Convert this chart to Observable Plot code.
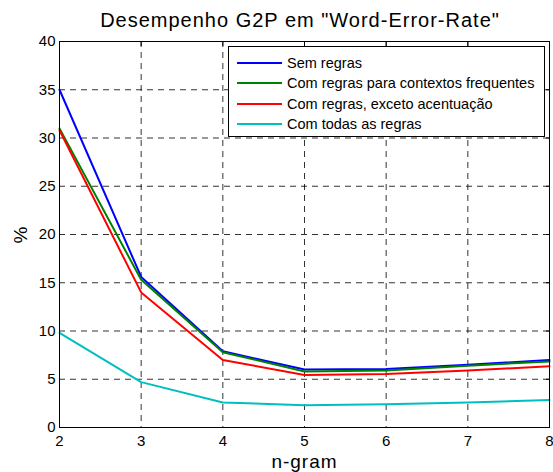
<!DOCTYPE html>
<html><head><meta charset="utf-8">
<script src="https://cdn.jsdelivr.net/npm/d3@7"></script>
<script src="https://cdn.jsdelivr.net/npm/@observablehq/plot@0.6"></script>
<style>
body{margin:0;background:#fff;font-family:"Liberation Sans",Arial,sans-serif;}
#wrap{position:relative;width:553px;height:472px;overflow:hidden;}
#title{position:absolute;left:0;width:600px;top:9px;text-align:center;font-size:20px;letter-spacing:1px;color:#000;white-space:nowrap;}
#legend{position:absolute;left:228px;top:46px;width:315px;height:89px;border:1px solid #000;background:#fff;font-size:14.5px;color:#000;}
.row{position:absolute;left:8px;height:20px;display:flex;align-items:center;white-space:nowrap;}
.sw{width:45px;height:2px;margin-right:5px;}
</style></head><body>
<div id="wrap"><div id="chart"></div><div id="title"></div><div id="legend"></div></div>
<script>
const ngram = [2,3,4,5,6,7,8];
const seriesNames = ["Sem regras","Com regras para contextos frequentes","Com regras, exceto acentuação","Com todas as regras"];
const semRegras = [35, 15.6, 7.9, 6.0, 6.05, 6.5, 7.0];
const contextosFreq = [31, 15.3, 7.8, 5.8, 5.9, 6.4, 6.85];
const excetoAcent = [30.8, 14.0, 7.0, 5.45, 5.55, 5.9, 6.35];
const todasRegras = [9.8, 4.7, 2.6, 2.3, 2.4, 2.6, 2.85];
const colors = ["#0000ff","#008000","#ff0000","#00bfbf"];
const xTicks = [2,3,4,5,6,7,8];
const yTicks = [0,5,10,15,20,25,30,35,40];

const all = [semRegras, contextosFreq, excetoAcent, todasRegras];
const data = [];
all.forEach((arr,i)=>arr.forEach((v,j)=>data.push({s:seriesNames[i], x:ngram[j], y:v})));

const chart = Plot.plot({
  width:553, height:472,
  marginLeft:59, marginRight:4, marginTop:41, marginBottom:45,
  style:{fontFamily:"Liberation Sans, Arial, sans-serif", fontSize:"15px", color:"#000", background:"#fff", overflow:"visible"},
  x:{domain:[2,8], ticks:xTicks},
  y:{domain:[0,40], ticks:yTicks},
  color:{domain:seriesNames, range:colors},
  marks:[
    Plot.ruleX(xTicks.slice(1,-1), {stroke:"#000", strokeDasharray:"6,5", strokeWidth:1, strokeOpacity:0.8}),
    Plot.ruleY(yTicks.slice(1,-1), {stroke:"#000", strokeDasharray:"6,5", strokeWidth:1, strokeOpacity:0.8}),
    Plot.line(data, {x:"x", y:"y", z:"s", stroke:"s", strokeWidth:2}),
    Plot.axisX({anchor:"top", ticks:xTicks, tickSize:-4, tickFormat:()=>"", label:null}),
    Plot.axisY({anchor:"right", ticks:yTicks, tickSize:-4, tickFormat:()=>"", label:null}),
    Plot.frame({stroke:"#000", strokeWidth:1}),
    Plot.axisX({ticks:xTicks, tickSize:0, tickPadding:8, fontSize:15, tickFormat:"d", label:"n-gram", labelAnchor:"center", labelOffset:40, labelArrow:"none"}),
    Plot.axisY({ticks:yTicks, tickSize:0, tickPadding:4, fontSize:15, tickFormat:"d", label:"%", labelAnchor:"center", labelOffset:46, labelArrow:"none"})
  ]
});
document.getElementById("chart").appendChild(chart);
chart.querySelectorAll("g[aria-label='x-axis label'] text, g[aria-label='y-axis label'] text").forEach(t=>{t.style.fontSize="19px";t.style.letterSpacing="1px";});

document.getElementById("title").textContent = 'Desempenho G2P em "Word-Error-Rate"';
const lg = document.getElementById("legend");
seriesNames.forEach((n,i)=>{
  const r = document.createElement("div");
  r.className="row"; r.style.top=(6+i*20.3)+"px";
  r.innerHTML = `<div class="sw" style="background:${colors[i]}"></div><span>${n}</span>`;
  lg.appendChild(r);
});
</script></body></html>
